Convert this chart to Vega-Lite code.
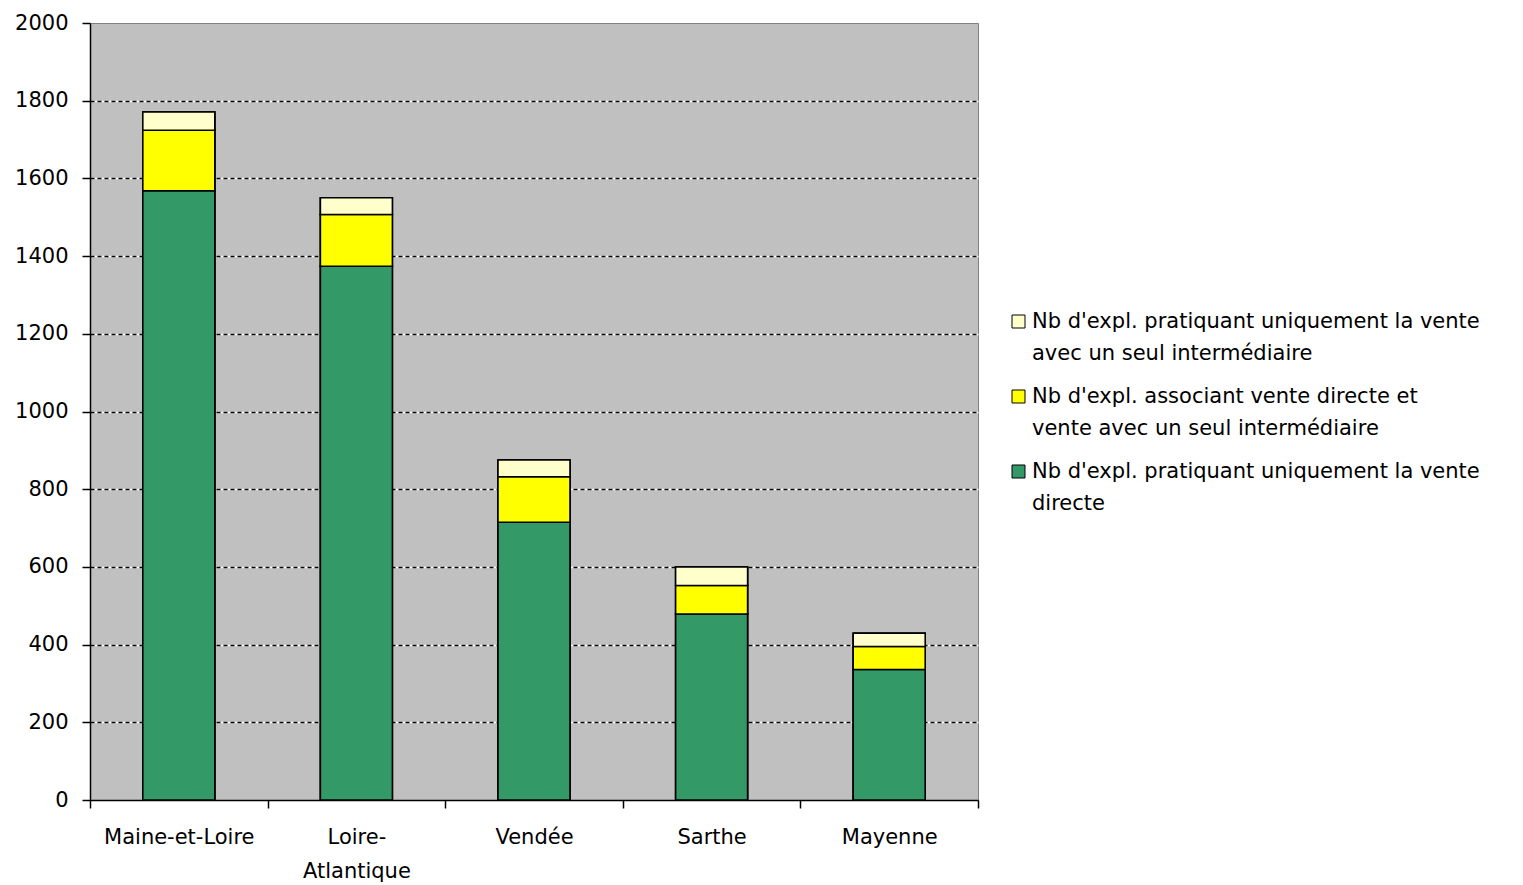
{
  "$schema": "https://vega.github.io/schema/vega-lite/v6.json",
  "width": 888,
  "height": 777,
  "autosize": {"type": "none"},
  "padding": {"left": 90, "top": 23, "right": 545, "bottom": 85},
  "background": "white",
  "config": {
    "view": {"fill": "#C0C0C0", "stroke": "#808080", "strokeWidth": 1},
    "font": "DejaVu Sans"
  },
  "data": {
    "values": [
      {"dep": "Maine-et-Loire", "serie": "Nb d'expl. pratiquant uniquement la vente directe", "o": 1, "value": 1568},
      {"dep": "Maine-et-Loire", "serie": "Nb d'expl. associant vente directe et vente avec un seul intermédiaire", "o": 2, "value": 156},
      {"dep": "Maine-et-Loire", "serie": "Nb d'expl. pratiquant uniquement la vente avec un seul intermédiaire", "o": 3, "value": 47},
      {"dep": "Loire-Atlantique", "serie": "Nb d'expl. pratiquant uniquement la vente directe", "o": 1, "value": 1374},
      {"dep": "Loire-Atlantique", "serie": "Nb d'expl. associant vente directe et vente avec un seul intermédiaire", "o": 2, "value": 133},
      {"dep": "Loire-Atlantique", "serie": "Nb d'expl. pratiquant uniquement la vente avec un seul intermédiaire", "o": 3, "value": 43},
      {"dep": "Vendée", "serie": "Nb d'expl. pratiquant uniquement la vente directe", "o": 1, "value": 715},
      {"dep": "Vendée", "serie": "Nb d'expl. associant vente directe et vente avec un seul intermédiaire", "o": 2, "value": 117},
      {"dep": "Vendée", "serie": "Nb d'expl. pratiquant uniquement la vente avec un seul intermédiaire", "o": 3, "value": 43},
      {"dep": "Sarthe", "serie": "Nb d'expl. pratiquant uniquement la vente directe", "o": 1, "value": 479},
      {"dep": "Sarthe", "serie": "Nb d'expl. associant vente directe et vente avec un seul intermédiaire", "o": 2, "value": 73},
      {"dep": "Sarthe", "serie": "Nb d'expl. pratiquant uniquement la vente avec un seul intermédiaire", "o": 3, "value": 48},
      {"dep": "Mayenne", "serie": "Nb d'expl. pratiquant uniquement la vente directe", "o": 1, "value": 336},
      {"dep": "Mayenne", "serie": "Nb d'expl. associant vente directe et vente avec un seul intermédiaire", "o": 2, "value": 59},
      {"dep": "Mayenne", "serie": "Nb d'expl. pratiquant uniquement la vente avec un seul intermédiaire", "o": 3, "value": 34}
    ]
  },
  "encoding": {
    "x": {
      "field": "dep",
      "type": "nominal",
      "sort": ["Maine-et-Loire", "Loire-Atlantique", "Vendée", "Sarthe", "Mayenne"],
      "scale": {"paddingInner": 0, "paddingOuter": 0},
      "axis": {
        "title": null,
        "labelAngle": 0,
        "labelFontSize": 21,
        "labelColor": "black",
        "labelPadding": 18,
        "labelLineHeight": 34,
        "labelExpr": "datum.label == 'Loire-Atlantique' ? ['Loire-', 'Atlantique'] : datum.label",
        "domainColor": "black",
        "domainWidth": 1.5,
        "tickColor": "black",
        "tickWidth": 1.5,
        "tickSize": 8,
        "tickBand": "extent",
        "grid": false
      }
    },
    "color": {
      "field": "serie",
      "type": "nominal",
      "scale": {
        "domain": [
          "Nb d'expl. pratiquant uniquement la vente avec un seul intermédiaire",
          "Nb d'expl. associant vente directe et vente avec un seul intermédiaire",
          "Nb d'expl. pratiquant uniquement la vente directe"
        ],
        "range": ["#FFFFCC", "#FFFF00", "#339966"]
      },
      "legend": {
        "title": null,
        "orient": "none",
        "legendX": 918,
        "legendY": 288,
        "symbolType": "square",
        "symbolSize": 169,
        "symbolStrokeColor": "black",
        "symbolStrokeWidth": 1,
        "labelFontSize": 21,
        "labelColor": "black",
        "labelOffset": 3,
        "labelLimit": 600,
        "rowPadding": 21,
        "encode": {"labels": {"update": {"lineHeight": {"value": 32}}}},
        "labelExpr": "indexof(datum.label, 'associant') >= 0 ? [\"Nb d'expl. associant vente directe et\", \"vente avec un seul intermédiaire\"] : (indexof(datum.label, 'seul') >= 0 ? [\"Nb d'expl. pratiquant uniquement la vente\", \"avec un seul intermédiaire\"] : [\"Nb d'expl. pratiquant uniquement la vente\", \"directe\"])"
      }
    },
    "order": {"field": "o", "type": "quantitative"}
  },
  "layer": [
    {
      "mark": {"type": "bar", "stroke": "black", "strokeWidth": 1.5, "width": {"band": 0.405}},
      "encoding": {
        "y": {
          "field": "value",
          "type": "quantitative",
          "stack": "zero",
          "scale": {"domain": [0, 2000]},
          "axis": {
            "title": null,
            "orient": "left",
            "values": [200, 400, 600, 800, 1000, 1200, 1400, 1600, 1800],
            "labels": false,
            "ticks": false,
            "domain": false,
            "grid": true,
            "gridColor": "white",
            "gridWidth": 1.5
          }
        }
      }
    },
    {
      "mark": {"type": "bar", "stroke": "black", "strokeWidth": 1.5, "width": {"band": 0.405}},
      "encoding": {
        "y": {
          "field": "value",
          "type": "quantitative",
          "stack": "zero",
          "scale": {"domain": [0, 2000]},
          "axis": {
            "title": null,
            "orient": "left",
            "values": [200, 400, 600, 800, 1000, 1200, 1400, 1600, 1800],
            "labels": false,
            "ticks": false,
            "domain": false,
            "grid": true,
            "gridColor": "black",
            "gridDash": [4, 3],
            "gridWidth": 1.5
          }
        }
      }
    },
    {
      "mark": {"type": "bar", "stroke": "black", "strokeWidth": 1.5, "width": {"band": 0.405}},
      "encoding": {
        "y": {
          "field": "value",
          "type": "quantitative",
          "stack": "zero",
          "scale": {"domain": [0, 2000]},
          "axis": {
            "title": null,
            "orient": "left",
            "values": [0, 200, 400, 600, 800, 1000, 1200, 1400, 1600, 1800, 2000],
            "format": "d",
            "labelFontSize": 21,
            "labelColor": "black",
            "labelPadding": 14,
            "domainColor": "black",
            "domainWidth": 1.5,
            "tickColor": "black",
            "tickWidth": 1.5,
            "tickSize": 8,
            "grid": false
          }
        }
      }
    }
  ],
  "resolve": {"axis": {"y": "independent"}}
}
